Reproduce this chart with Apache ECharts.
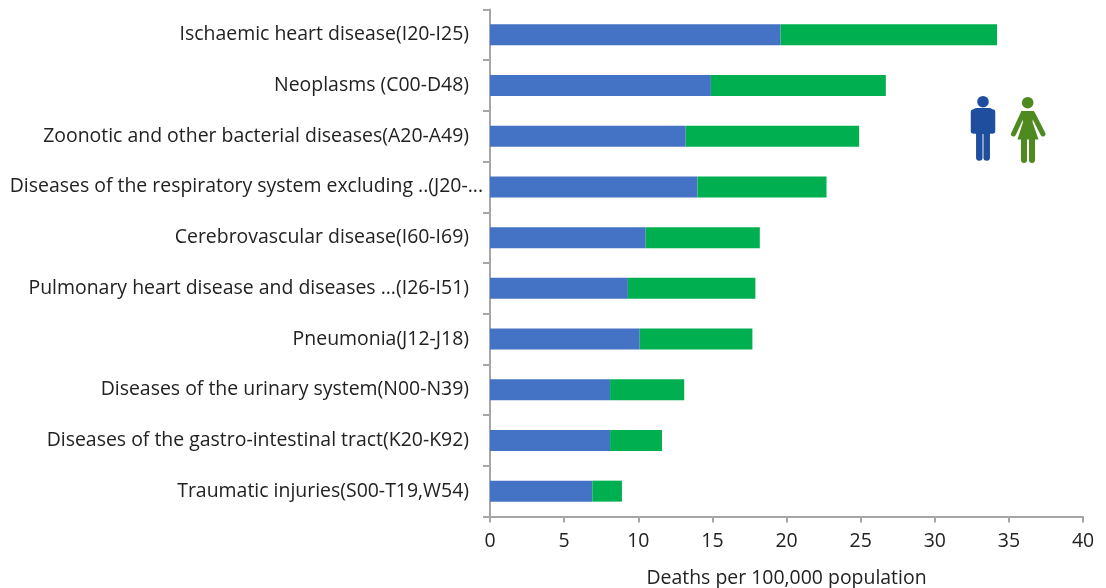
<!DOCTYPE html>
<html>
<head>
<meta charset="utf-8">
<style>
  html, body { margin: 0; padding: 0; background: #fff; }
  #container { width: 1106px; height: 588px; }
</style>
<script src="https://cdn.jsdelivr.net/npm/echarts@6/dist/echarts.min.js"></script>
</head>
<body>
<div id="container"></div>
<script>
var categories = [
  "Ischaemic heart disease(I20-I25)",
  "Neoplasms (C00-D48)",
  "Zoonotic and other bacterial diseases(A20-A49)",
  "Diseases of the respiratory system excluding ..(J20-...",
  "Cerebrovascular disease(I60-I69)",
  "Pulmonary heart disease and diseases ...(I26-I51)",
  "Pneumonia(J12-J18)",
  "Diseases of the urinary system(N00-N39)",
  "Diseases of the gastro-intestinal tract(K20-K92)",
  "Traumatic injuries(S00-T19,W54)"
];
var maleValues = [19.6, 14.9, 13.2, 14.0, 10.5, 9.3, 10.1, 8.1, 8.1, 6.9];
var femaleValues = [14.6, 11.8, 11.7, 8.7, 7.7, 8.6, 7.6, 5.0, 3.5, 2.0];
var xTicks = { min: 0, max: 40, interval: 5 };

var dom = document.getElementById("container");
var myChart = echarts.init(dom);
var fontName = "Open Sans";
var fontSize = 19.45;
var textColor = "#222";
var axisStyle = { color: "#a6a6a6", width: 2 };
var manColor = "#1f4e9e";
var womanColor = "#4e8a1f";

// little man and woman pictograms, built from plain shapes
function limb(points, color, width) {
  return {
    type: "polyline",
    shape: { points: points },
    style: { stroke: color, lineWidth: width, lineCap: "round", lineJoin: "round", fill: null }
  };
}

function manIcon() {
  return [
    { type: "circle", shape: { cx: 983, cy: 101.7, r: 5.8 }, style: { fill: manColor } },
    { type: "rect", shape: { x: 973, y: 108, width: 20, height: 26, r: 4 }, style: { fill: manColor } },
    limb([[973.5, 112], [973.5, 131]], manColor, 5.5),
    limb([[992.5, 112], [992.5, 131]], manColor, 5.5),
    limb([[979.3, 125], [979.3, 157.5]], manColor, 6.5),
    limb([[986.7, 125], [986.7, 157.5]], manColor, 6.5)
  ];
}

function womanIcon() {
  return [
    { type: "circle", shape: { cx: 1027.7, cy: 102.7, r: 5.8 }, style: { fill: womanColor } },
    {
      type: "polygon",
      shape: { points: [[1021, 111], [1034, 111], [1032.5, 122], [1038.5, 139.5], [1017.5, 139.5], [1023, 122]] },
      style: { fill: womanColor }
    },
    limb([[1023, 113.5], [1013.5, 134]], womanColor, 5),
    limb([[1032.5, 113.5], [1043, 134]], womanColor, 5),
    limb([[1024, 135], [1024, 160]], womanColor, 6),
    limb([[1032, 135], [1032, 160]], womanColor, 6)
  ];
}

var option = {
  backgroundColor: "#fff",
  animation: false,
  grid: { left: 490, right: 23, top: 9.5, bottom: 71.5, outerBoundsMode: "none" },
  xAxis: {
    type: "value",
    min: xTicks.min,
    max: xTicks.max,
    interval: xTicks.interval,
    name: "Deaths per 100,000 population",
    nameLocation: "middle",
    nameGap: 52,
    nameTextStyle: { fontFamily: fontName, fontSize: fontSize, color: textColor },
    splitLine: { show: false },
    axisLine: { show: true, lineStyle: axisStyle },
    axisTick: { show: true, length: 6, lineStyle: axisStyle },
    axisLabel: { fontFamily: fontName, fontSize: fontSize, color: textColor, margin: 15 }
  },
  yAxis: {
    type: "category",
    inverse: true,
    data: categories,
    axisLine: { show: true, lineStyle: axisStyle },
    axisTick: { show: true, length: 7, alignWithLabel: false, lineStyle: axisStyle },
    axisLabel: {
      margin: 7,
      interval: 0,
      formatter: function (value, index) {
        return index === 3 ? "{t|" + value + "}" : "{a|" + value + "}";
      },
      rich: {
        a: { fontFamily: fontName, fontSize: fontSize, color: textColor, padding: [0, 14, 0, 0] },
        t: { fontFamily: fontName, fontSize: fontSize, color: textColor }
      }
    }
  },
  series: [
    {
      name: "Male",
      type: "bar",
      stack: "deaths",
      barWidth: 21,
      itemStyle: { color: "#4472c4" },
      data: maleValues
    },
    {
      name: "Female",
      type: "bar",
      stack: "deaths",
      barWidth: 21,
      itemStyle: { color: "#00b050" },
      data: femaleValues
    }
  ],
  graphic: manIcon().concat(womanIcon())
};

if (option && typeof option === "object") {
  myChart.setOption(option);
}
</script>
</body>
</html>
